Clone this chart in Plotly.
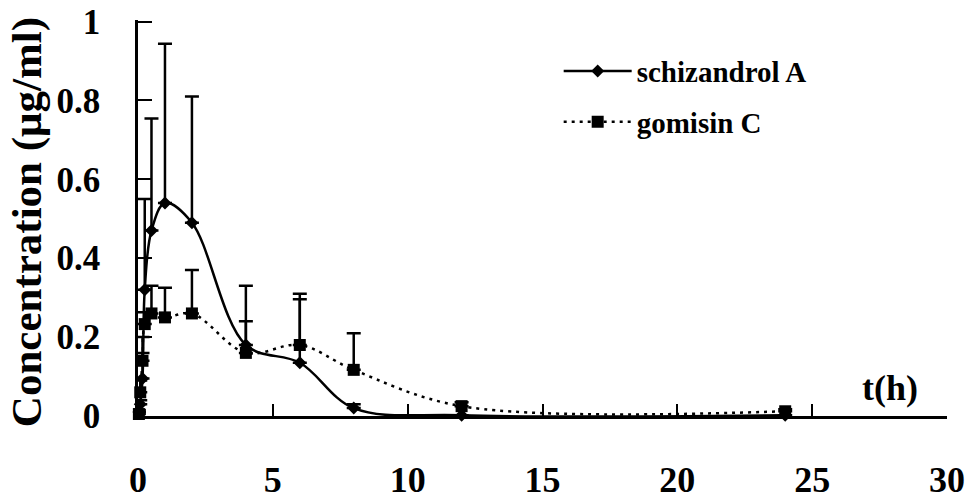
import plotly.graph_objects as go

# Sampling times (h)
time_h = [0.033, 0.083, 0.167, 0.25, 0.5, 1, 2, 4, 6, 8, 12, 24]

# Mean plasma concentrations (µg/ml) and upper SD
schizandrol_a = [0.01, 0.03, 0.095, 0.32, 0.47, 0.54, 0.49, 0.18, 0.135, 0.02, 0.002, 0.002]
schizandrol_a_sd = [0.005, 0.01, 0.105, 0.23, 0.284, 0.404, 0.32, 0.15, 0.175, 0.01, 0.0, 0.0]

gomisin_c = [0.005, 0.06, 0.14, 0.233, 0.26, 0.25, 0.26, 0.16, 0.18, 0.117, 0.025, 0.012]
gomisin_c_sd = [0.005, 0.03, 0.02, 0.03, 0.07, 0.075, 0.11, 0.08, 0.116, 0.093, 0.01, 0.005]

x_ticks = [0, 5, 10, 15, 20, 25, 30]
y_ticks = [0, 0.2, 0.4, 0.6, 0.8, 1]
y_tick_text = ["0", "0.2", "0.4", "0.6", "0.8", "1"]

SERIF = "Liberation Serif, Times New Roman, serif"

fig = go.Figure()

fig.add_trace(go.Scatter(
    x=time_h, y=schizandrol_a, name="schizandrol A",
    mode="lines+markers", legendgroup="a",
    line=dict(color="black", width=2.5, shape="spline", smoothing=1.0),
    marker=dict(symbol="diamond", size=10, color="black"),
    error_y=dict(type="data", symmetric=False, array=schizandrol_a_sd,
                 arrayminus=[0] * len(time_h), color="black", thickness=2.5, width=7),
    cliponaxis=False,
))

fig.add_trace(go.Scatter(
    x=time_h, y=gomisin_c, name="gomisin C",
    mode="lines+markers", legendgroup="c",
    line=dict(color="black", width=2.5, dash="3px,5px", shape="spline", smoothing=1.0),
    marker=dict(symbol="square", size=12, color="black"),
    error_y=dict(type="data", symmetric=False, array=gomisin_c_sd,
                 arrayminus=[0] * len(time_h), color="black", thickness=2.5, width=7),
    cliponaxis=False,
))

fig.update_layout(
    width=969, height=500,
    margin=dict(l=138, r=22, t=20, b=84),
    paper_bgcolor="white", plot_bgcolor="white",
    font=dict(family=SERIF, color="black"),
    showlegend=True,
    legend=dict(
        x=0.52, y=0.935, xanchor="left", yanchor="top",
        bgcolor="rgba(0,0,0,0)", borderwidth=0,
        font=dict(family=SERIF, size=29, weight="bold", color="black"),
        itemwidth=68, traceorder="grouped", tracegroupgap=10,
    ),
    xaxis=dict(
        range=[0, 30], tickvals=x_ticks, ticktext=[str(v) for v in x_ticks],
        showline=True, linecolor="black", linewidth=3,
        ticks="inside", ticklen=12, tickwidth=2, tickcolor="black",
        showgrid=False, zeroline=False, automargin=False,
        tickfont=dict(family=SERIF, size=36, weight="bold"),
        ticklabelstandoff=30,
    ),
    yaxis=dict(
        range=[0, 1.004], tickvals=y_ticks, ticktext=y_tick_text,
        showline=True, linecolor="black", linewidth=2.5,
        ticks="inside", ticklen=14, tickwidth=2, tickcolor="black",
        showgrid=False, zeroline=False, automargin=False,
        tickfont=dict(family=SERIF, size=35, weight="bold"),
        ticklabelstandoff=28, ticklabeloverflow="allow",
    ),
    annotations=[
        dict(text="Concentration (μg/ml)", textangle=-90,
             xref="paper", yref="paper", x=-0.137, y=0.49,
             xanchor="center", yanchor="middle", showarrow=False,
             font=dict(family=SERIF, size=43, weight="bold")),
        dict(text="t(h)", xref="paper", yref="paper", x=0.929, y=0.07,
             xanchor="center", yanchor="middle", showarrow=False,
             font=dict(family=SERIF, size=36, weight="bold")),
    ],
)

fig.write_html("out.html")
